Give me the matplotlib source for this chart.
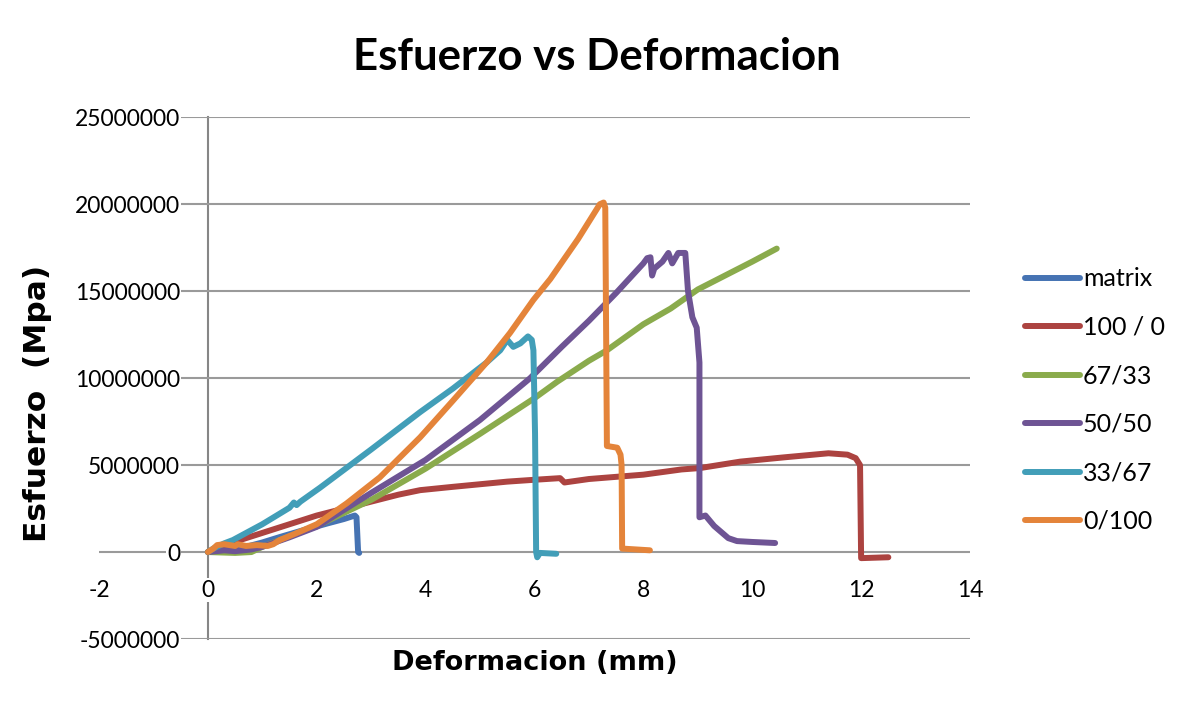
import matplotlib
matplotlib.use("Agg")
import matplotlib.pyplot as plt
import numpy as np

# ---------------- data (stress values in millions) ----------------
SCALE = 1e6

x_matrix = [0, 0.3, 0.7, 1.0, 1.32, 1.8, 2.2, 2.5, 2.7, 2.73, 2.76, 2.78]
y_matrix = [0, 0.1, 0.3, 0.55, 0.86, 1.3, 1.65, 1.9, 2.1, 2.0, 0.0, -0.05]

x_100_0 = [0, 0.2, 0.5, 1.0, 1.5, 2.0, 2.5, 3.0, 3.5, 3.9, 4.5, 5.0, 5.5, 5.92,
           6.47, 6.55, 7.0, 8.0, 8.7, 9.04, 9.78, 10.6, 11.4, 11.75, 11.9, 11.98,
           12.0, 12.5]
y_100_0 = [0, 0.3, 0.6, 1.1, 1.6, 2.1, 2.5, 2.9, 3.3, 3.56, 3.75, 3.9, 4.05, 4.14,
           4.25, 4.0, 4.2, 4.45, 4.75, 4.83, 5.2, 5.45, 5.68, 5.6, 5.4, 5.0,
           -0.35, -0.3]

x_67_33 = [0, 0.5, 0.8, 1.0, 1.5, 2.0, 3.0, 4.0, 5.0, 6.0, 6.42, 7.0, 7.33, 8.0,
           8.5, 9.0, 9.5, 10.0, 10.45]
y_67_33 = [0, -0.05, 0.0, 0.3, 0.9, 1.5, 3.0, 4.8, 6.8, 8.85, 9.8, 11.0, 11.6, 13.1,
           14.0, 15.1, 15.9, 16.7, 17.45]

x_50_50 = [0, 0.3, 0.5, 0.8, 1.0, 1.5, 2.0, 3.0, 4.0, 5.0, 5.92, 6.5, 7.0, 7.5,
           8.0, 8.07, 8.13, 8.16, 8.2, 8.35, 8.46, 8.53, 8.64, 8.77, 8.82, 8.9,
           8.98, 9.03, 9.03, 9.14, 9.3, 9.56, 9.72, 10.0, 10.42]
y_50_50 = [0, 0.1, 0.05, 0.15, 0.3, 0.85, 1.45, 3.4, 5.3, 7.6, 10.0, 11.8, 13.3, 14.9,
           16.6, 16.9, 16.95, 15.9, 16.3, 16.7, 17.2, 16.6, 17.2, 17.2, 15.0, 13.5,
           12.9, 10.9, 2.0, 2.1, 1.5, 0.8, 0.63, 0.58, 0.52]

x_33_67 = [0, 0.1, 0.3, 0.46, 1.0, 1.5, 1.58, 1.63, 1.7, 2.06, 3.0, 3.9, 4.5, 5.12,
           5.37, 5.5, 5.61, 5.74, 5.88, 5.95, 5.98, 6.01, 6.03, 6.05, 6.1, 6.4]
y_33_67 = [0, 0.2, 0.5, 0.69, 1.6, 2.55, 2.85, 2.7, 2.9, 3.7, 5.9, 8.05, 9.4, 10.9,
           11.6, 12.2, 11.8, 12.0, 12.4, 12.2, 11.6, 6.8, 0.0, -0.3, -0.05, -0.1]

x_0_100 = [0, 0.1, 0.17, 0.3, 0.5, 0.55, 0.7, 0.9, 1.1, 1.2, 1.32, 1.6, 2.0, 2.55,
           3.16, 3.9, 4.5, 5.12, 5.55, 5.98, 6.29, 6.8, 7.1, 7.2, 7.27, 7.3, 7.33,
           7.52, 7.58, 7.6, 7.61, 8.12]
y_0_100 = [0, 0.2, 0.4, 0.45, 0.35, 0.45, 0.35, 0.4, 0.35, 0.45, 0.69, 1.05, 1.6, 2.8,
           4.3, 6.6, 8.7, 10.9, 12.6, 14.5, 15.7, 18.0, 19.5, 20.0, 20.1, 19.8, 6.1,
           6.0, 5.6, 5.0, 0.2, 0.1]

series_labels = ["matrix", "100 / 0", "67/33", "50/50", "33/67", "0/100"]
series_x = [x_matrix, x_100_0, x_67_33, x_50_50, x_33_67, x_0_100]
series_y = [y_matrix, y_100_0, y_67_33, y_50_50, y_33_67, y_0_100]
colors = ["#4673B3", "#AC4340", "#8AAB4C", "#6E5494", "#429EB8", "#E4843A"]

x_ticks = [-2, 0, 2, 4, 6, 8, 10, 12, 14]
y_ticks = [-5000000, 0, 5000000, 10000000, 15000000, 20000000, 25000000]

title = "Esfuerzo vs Deformacion"
xlabel = "Deformacion (mm)"
ylabel = "Esfuerzo  (Mpa)"

# ---------------- figure ----------------
W, H = 1188, 710
fig = plt.figure(figsize=(W / 100, H / 100), dpi=100)
fig.patch.set_facecolor("white")
ax = fig.add_axes([99 / W, 71 / H, 871 / W, 521.7 / H])

tick_font = ["Lato", "DejaVu Sans"]

for xs, ys, lab, c in zip(series_x, series_y, series_labels, colors):
    ax.plot(xs, np.array(ys) * SCALE, color=c, lw=4.3, label=lab,
            solid_capstyle="round", solid_joinstyle="round", zorder=3)

ax.set_xlim(-2, 14)
ax.set_ylim(-5e6, 25e6)
ax.set_xticks(x_ticks)
ax.set_yticks(y_ticks)
ax.set_xticklabels([str(v) for v in x_ticks])
ax.set_yticklabels([str(v) for v in y_ticks])

for s in ["top", "right", "bottom"]:
    ax.spines[s].set_visible(False)
ax.spines["left"].set_position(("data", 0))
ax.spines["bottom"].set_position(("data", 0))
ax.spines["left"].set_color("#868686")
ax.spines["left"].set_linewidth(1.5)
ax.spines["left"].set_zorder(1.2)

ax.yaxis.grid(True, color="#9a9a9a", lw=1.5)
ax.set_axisbelow("line")
ax.tick_params(axis="both", length=0, pad=20, labelsize=16.5)
for lbl in ax.get_xticklabels() + ax.get_yticklabels():
    lbl.set_family(tick_font)
    lbl.set_bbox(dict(facecolor="white", edgecolor="none", pad=1.0))

leg = ax.legend(loc="center left", bbox_to_anchor=(1025 / W, 1 - 400 / H),
                bbox_transform=fig.transFigure, frameon=False, borderpad=0,
                borderaxespad=0, handlelength=2.2, handletextpad=0.12,
                labelspacing=1.02, prop={"family": tick_font, "size": 18})

fig.text(597 / W, 1 - 57 / H, title, ha="center", va="center", fontsize=31.5,
         fontweight="bold", family=tick_font)
fig.text(535 / W, 1 - 663 / H, xlabel, ha="center", va="center", fontsize=19.5,
         fontweight="bold", family=["DejaVu Sans"])
fig.text(38 / W, 1 - 403 / H, ylabel, ha="center", va="center", fontsize=22.5,
         fontweight="bold", rotation=90, family=["DejaVu Sans"])

fig.savefig("out.png", dpi=100, facecolor="white")
